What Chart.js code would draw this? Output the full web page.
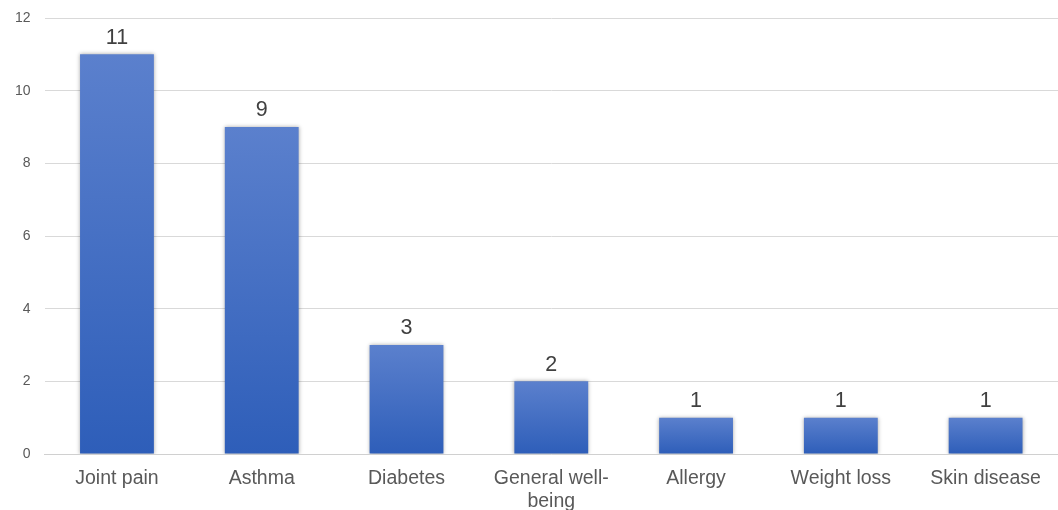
<!DOCTYPE html>
<html>
<head>
<meta charset="utf-8">
<script src="https://cdn.jsdelivr.net/npm/chart.js@4/dist/chart.umd.min.js"></script>
<style>
  html, body { margin: 0; padding: 0; background: #fff; }
  #wrap { width: 1058px; height: 510px; position: relative; }
</style>
</head>
<body>
<div id="wrap"><canvas id="chart"></canvas></div>
<script>
// --- data ---
const categories = ['Joint pain', 'Asthma', 'Diabetes', ['General well-', 'being'], 'Allergy', 'Weight loss', 'Skin disease'];
const counts = [11, 9, 3, 2, 1, 1, 1];
const yTicks = [0, 2, 4, 6, 8, 10, 12];

const fontFamily = '"Liberation Sans", Arial, sans-serif';

// per-bar vertical gradient, light at top, darker at the base
function barGradient(c) {
    const chart = c.chart;
    const y = chart.scales.y;
    if (!y || c.dataIndex == null) return '#3f6cc4';
    const top = y.getPixelForValue(counts[c.dataIndex]);
    const base = y.getPixelForValue(0);
    if (!isFinite(top) || !isFinite(base) || top === base) return '#3f6cc4';
    const g = chart.ctx.createLinearGradient(0, top, 0, base);
    g.addColorStop(0, '#5b80cd');
    g.addColorStop(1, '#2e5eb9');
    return g;
}

// soft shadow behind the bars
const barShadow = {
    id: 'barShadow',
    beforeDatasetDraw(chart) {
        const ctx = chart.ctx;
        ctx.save();
        ctx.shadowColor = 'rgba(0,0,0,0.35)';
        ctx.shadowBlur = 4;
        ctx.shadowOffsetX = 0;
        ctx.shadowOffsetY = 0;
    },
    afterDatasetDraw(chart) {
        chart.ctx.restore();
    }
};

// value labels above the bars
const valueLabels = {
    id: 'valueLabels',
    afterDatasetsDraw(chart) {
        const ctx = chart.ctx;
        const meta = chart.getDatasetMeta(0);
        ctx.save();
        ctx.fillStyle = '#404040';
        ctx.font = '21.5px ' + fontFamily;
        ctx.textAlign = 'center';
        ctx.textBaseline = 'bottom';
        meta.data.forEach((el, i) => {
            ctx.fillText(String(counts[i]), el.x, el.y - 6);
        });
        ctx.restore();
    }
};

new Chart(document.getElementById('chart'), {
    type: 'bar',
    data: {
        labels: categories,
        datasets: [{
            data: counts,
            backgroundColor: barGradient,
            borderWidth: 0,
            barPercentage: 1,
            categoryPercentage: 0.51
        }]
    },
    options: {
        responsive: true,
        maintainAspectRatio: false,
        animation: false,
        layout: { padding: { top: 0, right: 0, bottom: 0, left: 1 } },
        plugins: {
            legend: { display: false },
            tooltip: { enabled: false }
        },
        scales: {
            x: {
                grid: { display: false },
                border: { color: '#d0d0d0', width: 1 },
                ticks: {
                    color: '#595959',
                    font: { family: fontFamily, size: 19.5 },
                    maxRotation: 0,
                    autoSkip: false,
                    padding: 5
                },
                // labels may run off the bottom edge, as in the original
                afterFit(axis) {
                    axis.height = 56;
                }
            },
            y: {
                min: 0,
                max: 12,
                afterBuildTicks(axis) {
                    axis.ticks = yTicks.map(v => ({ value: v }));
                },
                grid: { color: '#d9d9d9', drawTicks: false },
                border: { display: false },
                ticks: {
                    color: '#595959',
                    font: { family: fontFamily, size: 14 },
                    padding: 14
                },
                // keep the top gridline close to the canvas edge
                afterFit(axis) {
                    axis.paddingTop = 18;
                }
            }
        }
    },
    plugins: [barShadow, valueLabels]
});
</script>
</body>
</html>
